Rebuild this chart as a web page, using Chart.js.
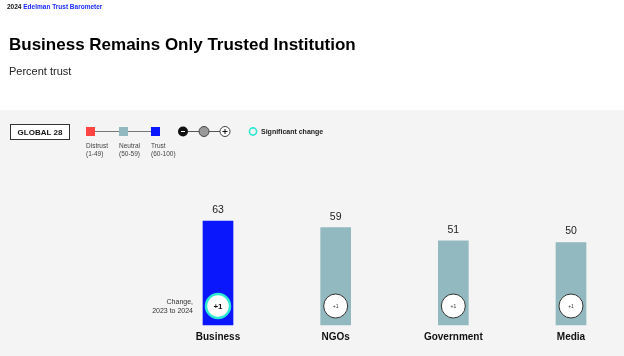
<!DOCTYPE html>
<html><head><meta charset="utf-8">
<script src="https://cdn.jsdelivr.net/npm/chart.js@4/dist/chart.umd.min.js"></script>
<style>html,body{margin:0;padding:0;background:#fff;}#wrap{width:624px;height:356px;position:relative;}</style>
</head><body><div id="wrap"><canvas id="c" width="624" height="356"></canvas></div>
<script>
const categories = ["Business", "NGOs", "Government", "Media"];
const trustValues = [63, 59, 51, 50];
const changeLabels = ["+1", "+1", "+1", "+1"];
const significant = [true, false, false, false];
const barColors = ["#0a16fb", "#92b9bf", "#92b9bf", "#92b9bf"];

const FONT = "Liberation Sans, Arial, sans-serif";

const decor = {
  id: 'decor',
  beforeDraw(chart) {
    const ctx = chart.ctx;
    ctx.save();
    ctx.fillStyle = '#ffffff'; ctx.fillRect(0, 0, 624, 110);
    ctx.fillStyle = '#f4f4f4'; ctx.fillRect(0, 110, 624, 246);
    // top brand
    ctx.textBaseline = 'middle'; ctx.textAlign = 'left';
    ctx.font = 'bold 6.5px ' + FONT;
    ctx.fillStyle = '#111';
    ctx.fillText('2024', 7, 7);
    const w = ctx.measureText('2024 ').width;
    ctx.fillStyle = '#1a2cff';
    ctx.fillText('Edelman Trust Barometer', 7 + w, 7);
    // title
    ctx.fillStyle = '#000';
    ctx.font = 'bold 17px ' + FONT;
    ctx.fillText('Business Remains Only Trusted Institution', 9, 45);
    ctx.font = '11px ' + FONT;
    ctx.fillStyle = '#222';
    ctx.fillText('Percent trust', 9, 72);
    // GLOBAL 28 box
    ctx.strokeStyle = '#333'; ctx.lineWidth = 1;
    ctx.fillStyle = '#fff';
    ctx.fillRect(10.5, 124.5, 59, 15);
    ctx.strokeRect(10.5, 124.5, 59, 15);
    ctx.fillStyle = '#111'; ctx.font = 'bold 8px ' + FONT; ctx.textAlign = 'center';
    ctx.fillText('GLOBAL 28', 40, 132.5);
    // trust scale legend
    ctx.strokeStyle = '#777'; ctx.lineWidth = 1;
    ctx.beginPath(); ctx.moveTo(90, 131.5); ctx.lineTo(156, 131.5); ctx.stroke();
    const sq = [[86, '#ff4444', 'Distrust', '(1-49)'], [119, '#92b9bf', 'Neutral', '(50-59)'], [151, '#0a16fb', 'Trust', '(60-100)']];
    ctx.textAlign = 'left';
    sq.forEach(s => {
      ctx.fillStyle = s[1]; ctx.fillRect(s[0], 127, 9, 9);
      ctx.fillStyle = '#444'; ctx.font = '6.5px ' + FONT;
      ctx.fillText(s[2], s[0], 146);
      ctx.fillText(s[3], s[0], 154.5);
    });
    // change legend
    ctx.strokeStyle = '#555';
    ctx.beginPath(); ctx.moveTo(183, 131.5); ctx.lineTo(226, 131.5); ctx.stroke();
    ctx.fillStyle = '#111';
    ctx.beginPath(); ctx.arc(183, 131.5, 5, 0, Math.PI * 2); ctx.fill();
    ctx.strokeStyle = '#fff'; ctx.beginPath(); ctx.moveTo(181, 131.5); ctx.lineTo(185, 131.5); ctx.stroke();
    ctx.fillStyle = '#999'; ctx.strokeStyle = '#444';
    ctx.beginPath(); ctx.arc(204, 131.5, 5, 0, Math.PI * 2); ctx.fill(); ctx.stroke();
    ctx.fillStyle = '#fff';
    ctx.beginPath(); ctx.arc(225, 131.5, 5, 0, Math.PI * 2); ctx.fill(); ctx.stroke();
    ctx.strokeStyle = '#111';
    ctx.beginPath(); ctx.moveTo(222.5, 131.5); ctx.lineTo(227.5, 131.5); ctx.moveTo(225, 129); ctx.lineTo(225, 134); ctx.stroke();
    ctx.strokeStyle = '#2ee8d2'; ctx.lineWidth = 1.6;
    ctx.beginPath(); ctx.arc(253, 131.5, 3.6, 0, Math.PI * 2); ctx.stroke();
    ctx.fillStyle = '#222'; ctx.font = 'bold 7px ' + FONT;
    ctx.fillText('Significant change', 261, 132);
    ctx.restore();
  },
  afterDatasetsDraw(chart) {
    const ctx = chart.ctx;
    const xs = chart.scales.x, ys = chart.scales.y;
    ctx.save();
    ctx.textAlign = 'center'; ctx.textBaseline = 'middle';
    const base = ys.getPixelForValue(0);
    categories.forEach((c, i) => {
      const x = xs.getPixelForValue(i);
      const top = ys.getPixelForValue(trustValues[i]);
      ctx.fillStyle = '#222'; ctx.font = '10.5px ' + FONT;
      ctx.fillText(String(trustValues[i]), x, top - 11);
      ctx.fillStyle = '#111'; ctx.font = 'bold 10px ' + FONT;
      ctx.fillText(c, x, base + 12);
      const cy = base - 19;
      ctx.fillStyle = '#fff';
      ctx.beginPath(); ctx.arc(x, cy, 12, 0, Math.PI * 2); ctx.fill();
      if (significant[i]) {
        ctx.strokeStyle = '#2ee8d2'; ctx.lineWidth = 2.5;
        ctx.beginPath(); ctx.arc(x, cy, 12, 0, Math.PI * 2); ctx.stroke();
        ctx.fillStyle = '#111'; ctx.font = 'bold 8px ' + FONT;
      } else {
        ctx.strokeStyle = '#333'; ctx.lineWidth = 1;
        ctx.beginPath(); ctx.arc(x, cy, 12, 0, Math.PI * 2); ctx.stroke();
        ctx.fillStyle = '#333'; ctx.font = '5px ' + FONT;
      }
      ctx.fillText(changeLabels[i], x, cy + 0.5);
    });
    const x0 = xs.getPixelForValue(0);
    ctx.textAlign = 'right'; ctx.fillStyle = '#333'; ctx.font = '7px ' + FONT;
    ctx.fillText('Change,', x0 - 25, base - 23);
    ctx.fillText('2023 to 2024', x0 - 25, base - 13.5);
    ctx.restore();
  }
};

new Chart(document.getElementById('c'), {
  type: 'bar',
  data: {
    labels: categories,
    datasets: [{
      data: trustValues,
      backgroundColor: barColors,
      borderWidth: 0,
      barThickness: 30,
      clip: false
    }]
  },
  options: {
    responsive: false,
    animation: false,
    events: [],
    layout: { padding: { left: 218, right: 53, top: 160, bottom: 31 } },
    plugins: { legend: { display: false }, tooltip: { enabled: false } },
    scales: {
      x: { display: false, offset: false },
      y: { display: false, min: 0, max: 100 }
    }
  },
  plugins: [decor]
});
</script>
</body></html>
